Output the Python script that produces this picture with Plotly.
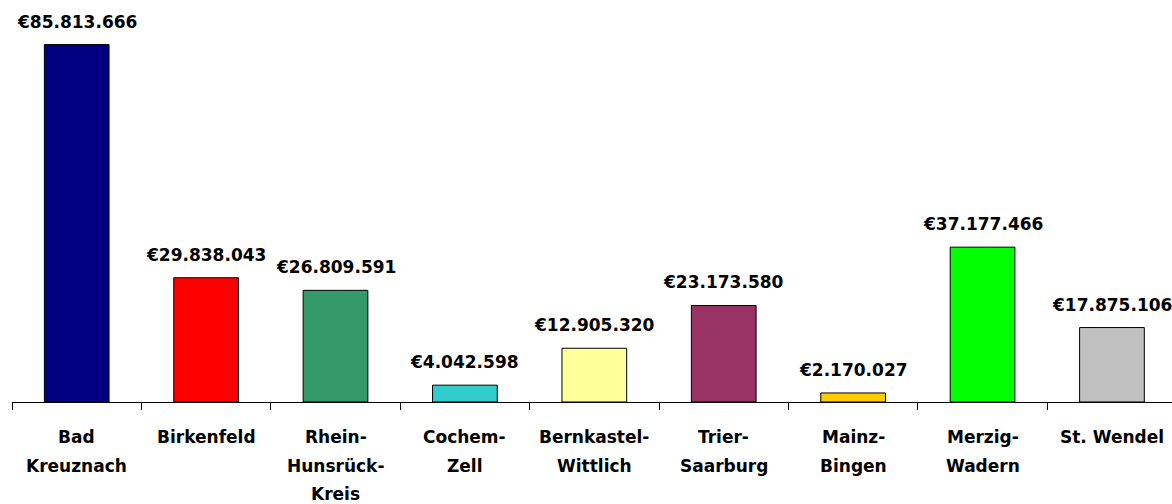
import plotly.graph_objects as go

categories = ["Bad\nKreuznach", "Birkenfeld", "Rhein-\nHunsrück-\nKreis", "Cochem-\nZell",
              "Bernkastel-\nWittlich", "Trier-\nSaarburg", "Mainz-\nBingen", "Merzig-\nWadern",
              "St. Wendel"]
values = [85813666, 29838043, 26809591, 4042598, 12905320, 23173580, 2170027, 37177466, 17875106]
colors = ["#000080", "#FF0000", "#339966", "#33CCCC", "#FFFF99", "#993366", "#FFCC00",
          "#00FF00", "#C0C0C0"]

keys = [c.replace("\n", " ") for c in categories]
FONT = dict(family="DejaVu Sans", size=17, color="black", weight="bold")

fig = go.Figure(go.Bar(
    x=keys, y=values, width=0.5,
    marker=dict(color=colors, line=dict(color="black", width=1)),
    hoverinfo="skip",
))

annotations = []
for k, v in zip(keys, values):
    annotations.append(dict(
        x=k, y=v, xref="x", yref="y", text="€" + f"{v:,}".replace(",", "."),
        showarrow=False, yanchor="bottom", yshift=11, font=FONT,
    ))
for k, c in zip(keys, categories):
    for i, line in enumerate(c.split("\n")):
        annotations.append(dict(
            x=k, y=0, xref="x", yref="paper", text=line, showarrow=False,
            yanchor="middle", yshift=-(35 + 28.5 * i), font=FONT,
        ))

px_per_unit = 357.4 / values[0]
fig.update_layout(
    width=1172, height=504,
    margin=dict(l=12, r=0, t=0, b=102),
    plot_bgcolor="white", paper_bgcolor="white",
    showlegend=False,
    annotations=annotations,
    xaxis=dict(
        type="category", range=[-0.5, 8.464],
        showline=True, linecolor="black", linewidth=1,
        ticks="outside", tickson="boundaries", ticklen=7, tickcolor="black",
        showticklabels=False, showgrid=False, zeroline=False, fixedrange=True,
    ),
    yaxis=dict(
        range=[0, 402 / px_per_unit],
        showticklabels=False, showgrid=False, zeroline=False, showline=False,
        fixedrange=True,
    ),
)

fig.write_html(
    "out.html",
    config={"displayModeBar": False, "staticPlot": True},
    post_script="document.body.style.margin='0';document.body.style.overflow='hidden';"
                "document.documentElement.style.overflow='hidden';",
)
